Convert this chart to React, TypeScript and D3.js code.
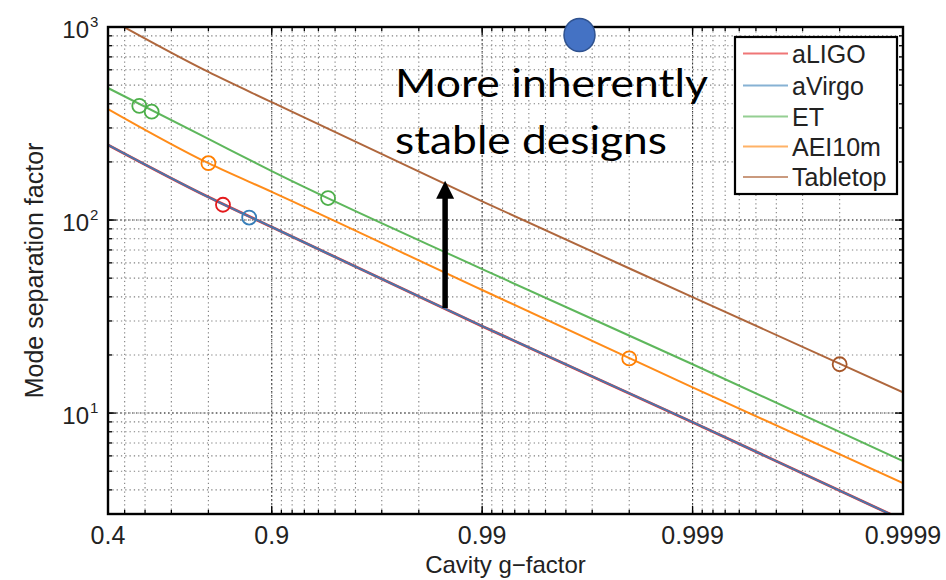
import React from "react";
import * as d3 from "d3";

// ---------- data ----------
const gSamples = [0.4, 0.8, 0.9, 0.99, 0.999, 0.9999];
const aLIGOValues = [245, 131.5, 92, 28.2, 8.97, 2.79];
const aVirgoValues = [245, 131.5, 92, 28.2, 8.97, 2.79];
const etValues = [483, 263, 179, 55.7, 17.9, 5.64];
const aei10mValues = [376, 197, 140, 43.4, 13.6, 4.34];
const tabletopValues = [1110, 585, 408, 125, 39.9, 12.8];

const aLIGOMarkers = [[0.8295, 120]];
const aVirgoMarkers = [[0.872, 103]];
const etMarkers = [[0.574, 390], [0.628, 364], [0.946, 130]];
const aei10mMarkers = [[0.8, 197], [0.998, 19.2]];
const tabletopMarkers = [[0.9998, 17.9]];

const seriesNames = ["aLIGO", "aVirgo", "ET", "AEI10m", "Tabletop"];
const seriesColors = ["#e41a1c", "#377eb8", "#4daf4a", "#ff7f00", "#a65628"];

const gTicks = [0.4, 0.9, 0.99, 0.999, 0.9999];
const gTickLabels = ["0.4", "0.9", "0.99", "0.999", "0.9999"];
const yTicks = [10, 100, 1000];
const yTickExponents = ["1", "2", "3"];

const arrowG = 0.985;
const arrowFrom = 35;
const arrowTo = 160;

// ---------- layout ----------
const W = 946;
const H = 580;
const L = 108;
const R = 903;
const T = 27;
const B = 514;

const x = d3.scaleLog().domain([0.6, 0.0001]).range([L, R]); // on (1 - g)
const y = d3.scaleLog().domain([3, 1000]).range([B, T]);
const gx = (g: number) => x(1 - g);

const series = seriesNames.map((name, i) => ({
  name,
  color: seriesColors[i],
  values: [aLIGOValues, aVirgoValues, etValues, aei10mValues, tabletopValues][i],
  markers: [aLIGOMarkers, aVirgoMarkers, etMarkers, aei10mMarkers, tabletopMarkers][i],
}));

// grid / tick positions in (1-g)
const xMinor: number[] = [];
for (let e = -4; e <= -1; e++) {
  for (let k = 1; k <= 9; k++) {
    const v = k * Math.pow(10, e);
    if (v <= 0.6 + 1e-9) xMinor.push(v);
  }
}
const yMinor: number[] = [];
for (let e = 0; e <= 2; e++) {
  for (let k = 1; k <= 9; k++) {
    const v = k * Math.pow(10, e);
    if (v >= 3 && v <= 1000) yMinor.push(v);
  }
}

const font = "'Liberation Sans', Arial, Helvetica, sans-serif";

export default function App() {
  const line = d3
    .line<number>()
    .x((_, i) => gx(gSamples[i]))
    .y((d) => y(d))
    .curve(d3.curveMonotoneX);

  const legendX = 735;
  const legendY = 37;
  const rowY = [53.5, 85.5, 116.5, 146.5, 177];

  return (
    <svg
      width={W}
      height={H}
      style={{ position: "absolute", left: 0, top: 0, background: "#fff" }}
      fontFamily={font}
    >
      <defs>
        <clipPath id="plotclip">
          <rect x={L} y={T} width={R - L} height={B - T} />
        </clipPath>
      </defs>
      <rect x={0} y={0} width={W} height={H} fill="#fff" />

      {/* grid */}
      <g strokeWidth={1.1}>
        {xMinor.map((v, i) => (
          <line
            key={"gx" + i}
            x1={x(v)}
            x2={x(v)}
            y1={T}
            y2={B}
            stroke="#808080"
            strokeDasharray="1.3,3"
          />
        ))}
        {gTicks.map((g, i) => (
          <line
            key={"gxm" + i}
            x1={gx(g)}
            x2={gx(g)}
            y1={T}
            y2={B}
            stroke="#333"
            strokeDasharray="1.5,2.5"
          />
        ))}
        {yMinor.map((v, i) => (
          <line
            key={"gy" + i}
            x1={L}
            x2={R}
            y1={y(v)}
            y2={y(v)}
            stroke="#808080"
            strokeDasharray="1.3,3"
          />
        ))}
        {yTicks.map((v, i) => (
          <line
            key={"gym" + i}
            x1={L}
            x2={R}
            y1={y(v)}
            y2={y(v)}
            stroke="#333"
            strokeDasharray="1.5,2.5"
          />
        ))}
      </g>

      {/* curves */}
      <g clipPath="url(#plotclip)" fill="none">
        {series.map((s, i) => (
          <path
            key={s.name}
            d={line(s.values) || ""}
            stroke={s.color}
            strokeWidth={i === 0 ? 2.8 : 2}
            strokeOpacity={0.9}
          />
        ))}
        {series.map((s) =>
          s.markers.map((m, j) => (
            <circle
              key={s.name + j}
              cx={gx(m[0])}
              cy={y(m[1])}
              r={7}
              stroke={s.color}
              strokeWidth={1.8}
              fill="none"
            />
          ))
        )}
      </g>

      {/* ticks */}
      <g stroke="#000" strokeWidth={1.3}>
        {xMinor.map((v, i) => (
          <g key={"tx" + i}>
            <line x1={x(v)} x2={x(v)} y1={B} y2={B - 4} />
            <line x1={x(v)} x2={x(v)} y1={T} y2={T + 4} />
          </g>
        ))}
        {gTicks.map((g, i) => (
          <g key={"txm" + i}>
            <line x1={gx(g)} x2={gx(g)} y1={B} y2={B - 8} />
            <line x1={gx(g)} x2={gx(g)} y1={T} y2={T + 8} />
          </g>
        ))}
        {yMinor.map((v, i) => (
          <g key={"ty" + i}>
            <line x1={L} x2={L + 4} y1={y(v)} y2={y(v)} />
            <line x1={R} x2={R - 4} y1={y(v)} y2={y(v)} />
          </g>
        ))}
        {yTicks.map((v, i) => (
          <g key={"tym" + i}>
            <line x1={L} x2={L + 8} y1={y(v)} y2={y(v)} />
            <line x1={R} x2={R - 8} y1={y(v)} y2={y(v)} />
          </g>
        ))}
      </g>

      {/* frame */}
      <rect x={L} y={T} width={R - L} height={B - T} fill="none" stroke="#000" strokeWidth={2.4} />

      {/* tick labels */}
      <g fontSize={25} fill="#222">
        {gTicks.map((g, i) => (
          <text key={"lx" + i} x={gx(g)} y={544} textAnchor="middle">
            {gTickLabels[i]}
          </text>
        ))}
        {yTicks.map((v, i) => (
          <g key={"ly" + i}>
            <text x={89} y={y(v) + 10.5} textAnchor="end" fontSize={24}>
              10
            </text>
            <text x={90} y={y(v) - 0.5} fontSize={15}>
              {yTickExponents[i]}
            </text>
          </g>
        ))}
      </g>

      {/* axis labels */}
      <text x={(L + R) / 2} y={573} textAnchor="middle" fontSize={24} fill="#222">
        Cavity g−factor
      </text>
      <text
        transform={`translate(43,${(T + B) / 2}) rotate(-90)`}
        textAnchor="middle"
        fontSize={25}
        fill="#222"
      >
        Mode separation factor
      </text>

      {/* legend */}
      <rect x={legendX} y={legendY} width={897 - legendX} height={194 - legendY} fill="#fff" stroke="#000" strokeWidth={2.2} />
      {series.map((s, i) => (
        <g key={"leg" + s.name}>
          <line x1={743} x2={788} y1={rowY[i]} y2={rowY[i]} stroke={s.color} strokeWidth={2} strokeOpacity={0.6} />
          <text x={792} y={rowY[i] + 9} fontSize={25} fill="#222">
            {s.name}
          </text>
        </g>
      ))}

      {/* annotation */}
      <g fontFamily="Lato, 'Open Sans', sans-serif" fontSize={39} fill="#000">
        <text x={395} y={97} textLength={313} lengthAdjust="spacingAndGlyphs">
          More inherently
        </text>
        <text x={395} y={154} textLength={272} lengthAdjust="spacingAndGlyphs">
          stable designs
        </text>
      </g>
      <line
        x1={gx(arrowG)}
        x2={gx(arrowG)}
        y1={y(arrowFrom)}
        y2={y(arrowTo) + 16}
        stroke="#000"
        strokeWidth={5.5}
      />
      <polygon
        points={`${gx(arrowG)},${y(arrowTo)} ${gx(arrowG) - 9},${y(arrowTo) + 18} ${gx(arrowG) + 9},${y(arrowTo) + 18}`}
        fill="#000"
      />
      <ellipse cx={579.5} cy={35} rx={15.5} ry={16.5} fill="#4472C4" stroke="#2F528F" strokeWidth={1.5} />
    </svg>
  );
}
